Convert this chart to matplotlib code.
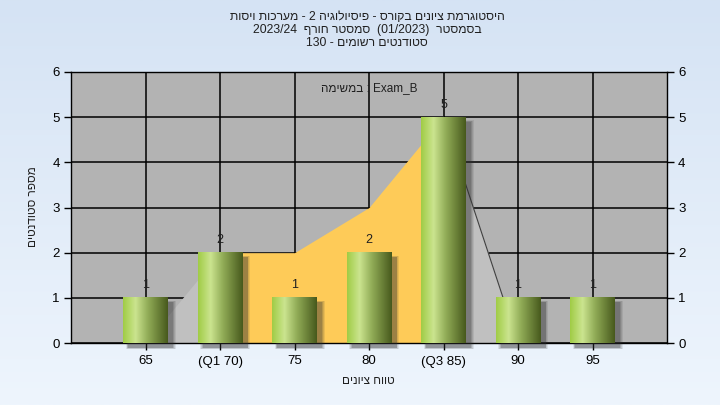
import numpy as np
import matplotlib
matplotlib.use("Agg")
import matplotlib.pyplot as plt
from matplotlib.colors import LinearSegmentedColormap
from matplotlib.patches import Rectangle

plt.rcParams['font.family'] = ['Liberation Sans', 'DejaVu Sans']

# ---- data ----
categories = ["65", "(Q1 70)", "75", "80", "(Q3 85)", "90", "95"]
counts = [1, 2, 1, 2, 5, 1, 1]
area_values = [0, 2, 2, 3, 5, 0, 0]
q1_index = 1
q3_index = 4
title_lines = ["היסטוגרמת ציונים בקורס - פיסיולוגיה 2 - מערכות ויסות",
               "בסמסטר  (01/2023)  סמסטר חורף  2023/24",
               "סטודנטים רשומים - 130"]
legend_text = "במשימה : Exam_B"
xlabel = "טווח ציונים"
ylabel = "מספר סטודנטים"
yticks = [0, 1, 2, 3, 4, 5, 6]


def is_ltr(c):
    return c.isascii() and c.isalnum()


def rtl(s):
    """Simple right-to-left visual ordering; Latin/digit runs stay left-to-right."""
    runs = []
    i = 0
    while i < len(s):
        if is_ltr(s[i]):
            j = i
            while j < len(s) and (is_ltr(s[j]) or (s[j] in "/._" and j + 1 < len(s) and is_ltr(s[j + 1]))):
                j += 1
            runs.append(s[i:j])
            i = j
        else:
            runs.append({'(': ')', ')': '('}.get(s[i], s[i]))
            i += 1
    return ''.join(reversed(runs))


def ltr_words(s):
    """Left-to-right paragraph with Hebrew words drawn right-to-left."""
    out = []
    for tok in s.split(' '):
        if any('\u0590' <= c <= '\u05ff' for c in tok):
            tok = tok[::-1]
        out.append(tok)
    return ' '.join(out)


fig = plt.figure(figsize=(7.2, 4.05), dpi=100)

# background gradient
bg = fig.add_axes([0, 0, 1, 1], zorder=-10)
grad = np.linspace(0, 1, 256).reshape(-1, 1)
bg_cmap = LinearSegmentedColormap.from_list("bg", ["#d5e3f4", "#eef5fd"])
bg.imshow(grad, aspect='auto', cmap=bg_cmap, extent=[0, 1, 0, 1])
bg.set_axis_off()

ax = fig.add_axes([71 / 720, 1 - 343 / 405, 596 / 720, 271 / 405])
ax.set_facecolor("#b3b3b3")
x = np.arange(len(categories))

# grid
for yv in yticks:
    ax.axhline(yv, color='black', lw=1.1, zorder=1)
for xv in x:
    ax.axvline(xv, color='black', lw=1.1, zorder=1)

# areas
xa = np.array(x, dtype=float)
av = np.array(area_values, dtype=float)
ax.fill_between(xa[:q1_index + 1], av[:q1_index + 1], color="#c0c0c0", lw=0, zorder=2)
ax.fill_between(xa[q3_index:], av[q3_index:], color="#c0c0c0", lw=0, zorder=2)
ax.fill_between(xa[q1_index:q3_index + 1], av[q1_index:q3_index + 1], color="#fecb58", lw=0, zorder=2)
ax.plot(xa[q3_index:q3_index + 2], av[q3_index:q3_index + 2], color="#404040", lw=0.8, zorder=2.5)

# bars
bw = 0.6
bar_cmap = LinearSegmentedColormap.from_list(
    "bar", [(0, "#a0cc45"), (0.28, "#cbe48f"), (0.55, "#92ad58"), (1, "#47591c")])
bgrad = np.linspace(0, 1, 256).reshape(1, -1)
for xi, v in zip(x, counts):
    # soft shadow
    for k, a in enumerate([0.10, 0.12, 0.16, 0.20]):
        g = (3 - k) * 0.012
        ax.add_patch(Rectangle((xi - bw / 2 + 0.07 - g, -0.1 - g), bw + 2 * g, v + 2 * g,
                               color="#303030", alpha=a, lw=0, zorder=3, clip_on=False))
    ax.imshow(bgrad, cmap=bar_cmap, aspect='auto',
              extent=[xi - bw / 2, xi + bw / 2, 0, v], zorder=4, interpolation='bilinear')
    ax.text(xi, v + 0.28, str(v), ha='center', va='center', fontsize=9, color='#202020', zorder=5)

ax.set_xlim(-1, len(categories))
ax.set_ylim(0, 6)
ax.set_xticks(x)
ax.set_xticklabels(categories, fontsize=9.5)
ax.set_yticks(yticks)
ax.tick_params(axis='y', left=True, right=True, labelleft=True, labelright=True,
               labelsize=9.5, length=5, width=1, direction='out', pad=3)
ax.tick_params(axis='x', length=5, width=1, direction='out', pad=4)
for sp in ax.spines.values():
    sp.set_color('black')
    sp.set_linewidth(1)

ax.text(0.5, 0.94, ltr_words(legend_text), transform=ax.transAxes, ha='center', va='center',
        fontsize=8.5, color='#202020', zorder=6)

fig.text(368 / 720, 1 - 381 / 405, rtl(xlabel), ha='center', va='center', fontsize=8.5, color='#202020')
fig.text(33 / 720, 1 - 207 / 405, rtl(ylabel), ha='center', va='center', rotation=90,
         fontsize=8.5, color='#202020')

for i, line in enumerate(title_lines):
    fig.text(367 / 720, 1 - (17 + 13 * i) / 405, rtl(line), ha='center', va='center',
             fontsize=8.7, color='#202020')

fig.savefig("out.png", dpi=100)
